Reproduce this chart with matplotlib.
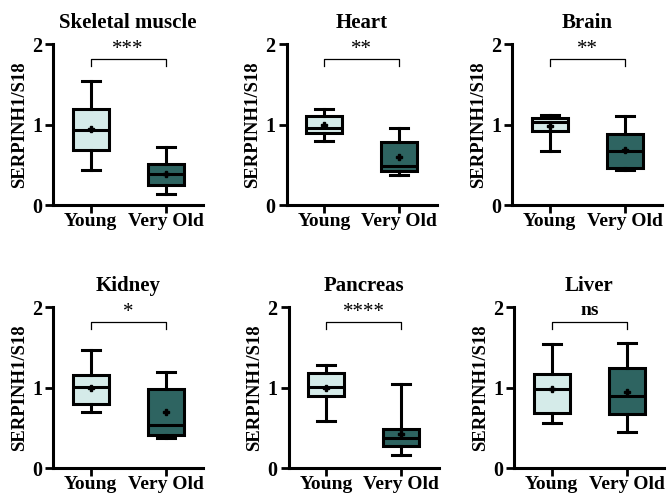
import matplotlib
matplotlib.use("Agg")
import matplotlib.pyplot as plt

plt.rcParams['font.family'] = ['Liberation Serif', 'DejaVu Serif']
plt.rcParams['font.weight'] = 'bold'

# datos
tissues = ["Skeletal muscle", "Heart", "Brain", "Kidney", "Pancreas", "Liver"]
groups = ["Young", "Very Old"]
signif = ["***", "**", "**", "*", "****", "ns"]

young_lo = [0.44, 0.80, 0.67, 0.70, 0.58, 0.56]
young_q1 = [0.69, 0.90, 0.92, 0.80, 0.90, 0.68]
young_med = [0.93, 0.96, 1.03, 1.01, 1.01, 0.99]
young_q3 = [1.20, 1.11, 1.09, 1.16, 1.18, 1.17]
young_hi = [1.54, 1.19, 1.12, 1.47, 1.28, 1.55]
young_mean = [0.95, 1.00, 0.99, 1.00, 1.00, 0.98]

old_lo = [0.14, 0.38, 0.44, 0.37, 0.16, 0.45]
old_q1 = [0.255, 0.42, 0.46, 0.41, 0.27, 0.67]
old_med = [0.39, 0.49, 0.67, 0.53, 0.37, 0.90]
old_q3 = [0.51, 0.79, 0.89, 0.99, 0.48, 1.24]
old_hi = [0.72, 0.955, 1.11, 1.20, 1.05, 1.56]
old_mean = [0.39, 0.60, 0.69, 0.70, 0.42, 0.95]

light = '#d5ebe9'
dark = '#2e6461'

fig = plt.figure(figsize=(6.67, 4.99), dpi=100)
lefts = [0.0795, 0.430, 0.768, 0.0795, 0.433, 0.771]
bottoms = [0.589, 0.589, 0.589, 0.062, 0.062, 0.062]

for i, name in enumerate(tissues):
    ax = fig.add_axes([lefts[i], bottoms[i], 0.225, 0.322])
    stats = [
        dict(whislo=young_lo[i], q1=young_q1[i], med=young_med[i], q3=young_q3[i],
             whishi=young_hi[i], mean=young_mean[i], fliers=[]),
        dict(whislo=old_lo[i], q1=old_q1[i], med=old_med[i], q3=old_q3[i],
             whishi=old_hi[i], mean=old_mean[i], fliers=[]),
    ]
    bp = ax.bxp(stats, positions=[0, 1], widths=0.48, capwidths=0.24,
                patch_artist=True, showmeans=True,
                boxprops=dict(linewidth=2.2, edgecolor='black'),
                whiskerprops=dict(linewidth=2.2, color='black'),
                capprops=dict(linewidth=2.2, color='black'),
                medianprops=dict(linewidth=2.2, color='black'),
                meanprops=dict(marker='P', markersize=5, markerfacecolor='black',
                               markeredgecolor='black'))
    bp['boxes'][0].set_facecolor(light)
    bp['boxes'][1].set_facecolor(dark)

    ax.set_xlim(-0.5, 1.5)
    ax.set_ylim(0, 2)
    ax.set_yticks([0, 1, 2])
    ax.set_xticks([0, 1])
    ax.set_xticklabels(groups, fontsize=14, fontweight='bold')
    ax.tick_params(axis='y', labelsize=14.5, width=2, length=6, pad=2)
    ax.tick_params(axis='x', width=2, length=6, pad=0)
    for lab in ax.get_yticklabels():
        lab.set_fontweight('bold')
    ax.spines['top'].set_visible(False)
    ax.spines['right'].set_visible(False)
    ax.spines['left'].set_linewidth(2.2)
    ax.spines['bottom'].set_linewidth(2.2)
    ax.set_ylabel('SERPINH1/S18', fontsize=13.5, fontweight='bold', labelpad=3)
    ax.set_title(name, fontsize=15, fontweight='bold', pad=12)

    # corchete de significancia
    ax.plot([0, 0, 1, 1], [1.73, 1.82, 1.82, 1.73], color='black', lw=0.9,
            clip_on=False)
    if signif[i] == 'ns':
        ax.text(0.5, 1.86, signif[i], ha='center', va='bottom', fontsize=14,
                fontweight='bold', clip_on=False)
    else:
        ax.text(0.5, 1.82, signif[i], ha='center', va='bottom', fontsize=15,
                fontweight='normal', clip_on=False)

fig.savefig('out.png', dpi=100)
